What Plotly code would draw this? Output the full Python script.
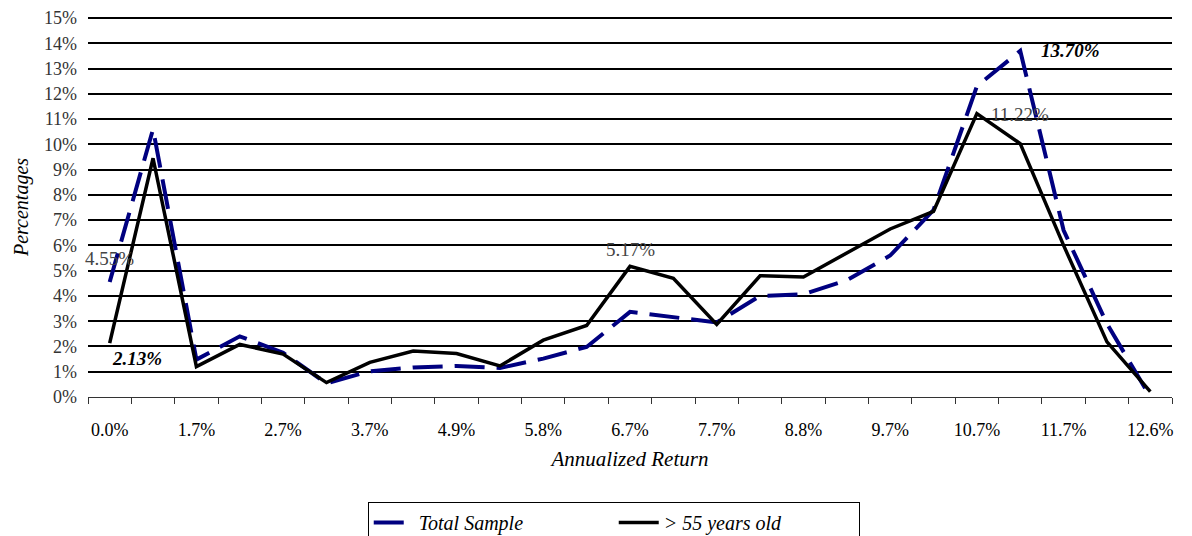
import plotly.graph_objects as go

# Category labels (only every other category carries a visible label)
x_labels = ["0.0%", "", "1.7%", "", "2.7%", "", "3.7%", "", "4.9%", "", "5.8%", "",
            "6.7%", "", "7.7%", "", "8.8%", "", "9.7%", "", "10.7%", "", "11.7%", "", "12.6%"]
x_idx = list(range(len(x_labels)))

total_sample = [4.55, 10.6, 1.48, 2.4, 1.75, 0.54, 1.02, 1.17, 1.23, 1.15, 1.52, 1.98,
                3.37, 3.15, 2.95, 4.0, 4.07, 4.62, 5.6, 7.4, 12.3, 13.70, 6.6, 2.9, 0.0]
over_55 = [2.13, 9.45, 1.2, 2.08, 1.7, 0.57, 1.37, 1.82, 1.72, 1.23, 2.25, 2.83,
           5.17, 4.7, 2.87, 4.8, 4.75, 5.7, 6.65, 7.35, 11.22, 10.03, 6.0, 2.18, 0.21]

y_ticks = list(range(0, 16))
y_ticktext = [f"{v}%" for v in y_ticks]

serif = "Liberation Serif"

W, H = 1184, 528  # page body has an 8px margin

fig = go.Figure()
fig.add_trace(go.Scatter(
    x=x_idx, y=total_sample, mode="lines", name="Total Sample",
    line=dict(color="#000080", width=4, dash="30px,12px"),
))
fig.add_trace(go.Scatter(
    x=x_idx, y=over_55, mode="lines", name="> 55 years old",
    line=dict(color="black", width=3.5),
))

ann_gray = dict(family=serif, size=19, color="#444444")
ann_bold = dict(family=serif, size=19, color="black")
annotations = [
    dict(x=0, y=5.5, text="4.55%", font=ann_gray),
    dict(x=0.62, y=1.53, text="<b><i>2.13%</i></b>", font=ann_bold),
    dict(x=12, y=5.85, text="5.17%", font=ann_gray),
    dict(x=21.0, y=11.2, text="11.22%", font=ann_gray),
    dict(x=22.15, y=13.7, text="<b><i>13.70%</i></b>", font=ann_bold),
]
for a in annotations:
    a.update(xref="x", yref="y", showarrow=False)

fig.update_layout(
    width=W, height=H,
    margin=dict(l=80, r=20, t=9, b=139),
    paper_bgcolor="white", plot_bgcolor="white",
    font=dict(family=serif, size=18, color="black"),
    showlegend=True,
    legend=dict(
        orientation="h", x=0.485, xanchor="center",
        yref="container", y=(H - 494) / H, yanchor="top",
        bordercolor="black", borderwidth=1,
        font=dict(family=serif, size=20, color="black", style="italic"),
        entrywidth=190, itemwidth=40,
    ),
    annotations=annotations,
)
fig.update_xaxes(
    range=[-0.5, 24.5], automargin=False,
    tickmode="array", tickvals=x_idx[::2], ticktext=x_labels[::2],
    ticks="", showgrid=False, zeroline=False,
    showline=True, linecolor="#333333", linewidth=1,
    ticklabelstandoff=16,
    tickfont=dict(family=serif, size=18, color="black"),
    minor=dict(tick0=-0.5, dtick=1, ticks="outside", ticklen=6, tickcolor="#333333", tickwidth=1, showgrid=False),
    title=dict(text="Annualized Return", font=dict(family=serif, size=21, color="black", style="italic"), standoff=12),
)
fig.update_yaxes(
    range=[0, 15.04], automargin=False, tickmode="array", tickvals=y_ticks, ticktext=y_ticktext,
    showgrid=True, gridcolor="black", gridwidth=2,
    zeroline=True, zerolinecolor="#333333", zerolinewidth=1,
    showline=False, ticks="", ticklabelstandoff=10, ticklabeloverflow="allow",
    tickfont=dict(family=serif, size=18, color="#333333"),
    title=dict(text="Percentages", font=dict(family=serif, size=20, color="black", style="italic"), standoff=10),
)

fig.write_html("out.html")
